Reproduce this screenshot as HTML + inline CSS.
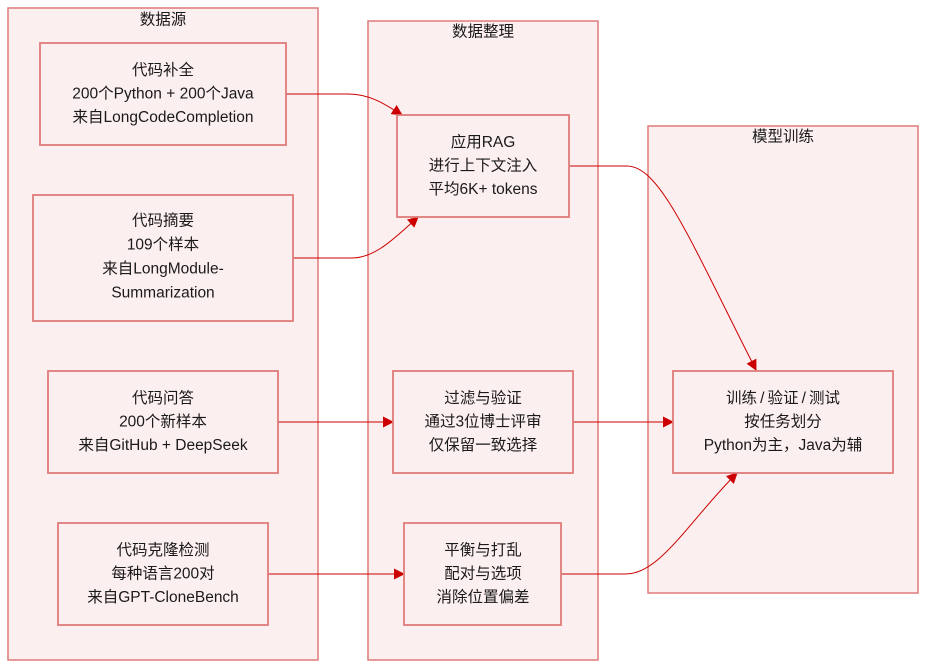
<!DOCTYPE html>
<html><head><meta charset="utf-8"><style>
html,body{margin:0;padding:0;background:#fff;}
svg{display:block;}
text{font-family:"Liberation Sans","Noto Sans CJK SC",sans-serif;font-size:15.5px;fill:#1a1a1a;text-anchor:middle;dominant-baseline:central;}
.c{fill:#fcefef;stroke:#e07a7a;stroke-width:1.5;}
.n{fill:#fcefef;stroke:#e07a7a;stroke-width:1.8;}
.e{fill:none;stroke:#cc0000;stroke-width:1;}
</style></head><body>
<svg width="927" height="668" viewBox="0 0 927 668" xmlns="http://www.w3.org/2000/svg">
<defs>
<marker id="a" markerWidth="11" markerHeight="11" refX="10" refY="5.5" orient="auto" markerUnits="userSpaceOnUse">
<path d="M0,0 L11,5.5 L0,11 z" fill="#cc0000"/>
</marker>
</defs>
<!-- clusters -->
<rect class="c" x="8" y="8" width="310" height="652"/>
<text x="163" y="20">数据源</text>
<rect class="c" x="368" y="21" width="230" height="639"/>
<text x="483" y="32">数据整理</text>
<rect class="c" x="648" y="126" width="270" height="467"/>
<text x="783" y="137">模型训练</text>

<!-- edges -->
<path class="e" d="M286,94 L348,94 C370,94 385,104 402,115" marker-end="url(#a)"/>
<path class="e" d="M293,258 L352,258 C375,258 395,238 418,217" marker-end="url(#a)"/>
<path class="e" d="M278,422 L393,422" marker-end="url(#a)"/>
<path class="e" d="M268,574 L404,574" marker-end="url(#a)"/>
<path class="e" d="M569,166 L627,166 C660,166 690,240 756,370" marker-end="url(#a)"/>
<path class="e" d="M573,422 L673,422" marker-end="url(#a)"/>
<path class="e" d="M561,574 L626,574 C660,574 690,520 737,473" marker-end="url(#a)"/>

<!-- nodes -->
<rect class="n" x="40" y="43" width="246" height="102"/>
<text x="163" y="70.5">代码补全</text>
<text x="163" y="94">200个Python + 200个Java</text>
<text x="163" y="117.5">来自LongCodeCompletion</text>

<rect class="n" x="33" y="195" width="260" height="126"/>
<text x="163" y="221">代码摘要</text>
<text x="163" y="245">109个样本</text>
<text x="163" y="269">来自LongModule-</text>
<text x="163" y="293">Summarization</text>

<rect class="n" x="48" y="371" width="230" height="102"/>
<text x="163" y="398.5">代码问答</text>
<text x="163" y="422">200个新样本</text>
<text x="163" y="445.5">来自GitHub + DeepSeek</text>

<rect class="n" x="58" y="523" width="210" height="102"/>
<text x="163" y="550.5">代码克隆检测</text>
<text x="163" y="574">每种语言200对</text>
<text x="163" y="597.5">来自GPT-CloneBench</text>

<rect class="n" x="397" y="115" width="172" height="102"/>
<text x="483" y="142.5">应用RAG</text>
<text x="483" y="166">进行上下文注入</text>
<text x="483" y="189.5">平均6K+ tokens</text>

<rect class="n" x="393" y="371" width="180" height="102"/>
<text x="483" y="398.5">过滤与验证</text>
<text x="483" y="422">通过3位博士评审</text>
<text x="483" y="445.5">仅保留一致选择</text>

<rect class="n" x="404" y="523" width="157" height="102"/>
<text x="483" y="550.5">平衡与打乱</text>
<text x="483" y="574">配对与选项</text>
<text x="483" y="597.5">消除位置偏差</text>

<rect class="n" x="673" y="371" width="220" height="102"/>
<text x="783" y="398.5">训练&#8201;/&#8201;验证&#8201;/&#8201;测试</text>
<text x="783" y="422">按任务划分</text>
<text x="783" y="445.5">Python为主，Java为辅</text>
</svg>
</body></html>
